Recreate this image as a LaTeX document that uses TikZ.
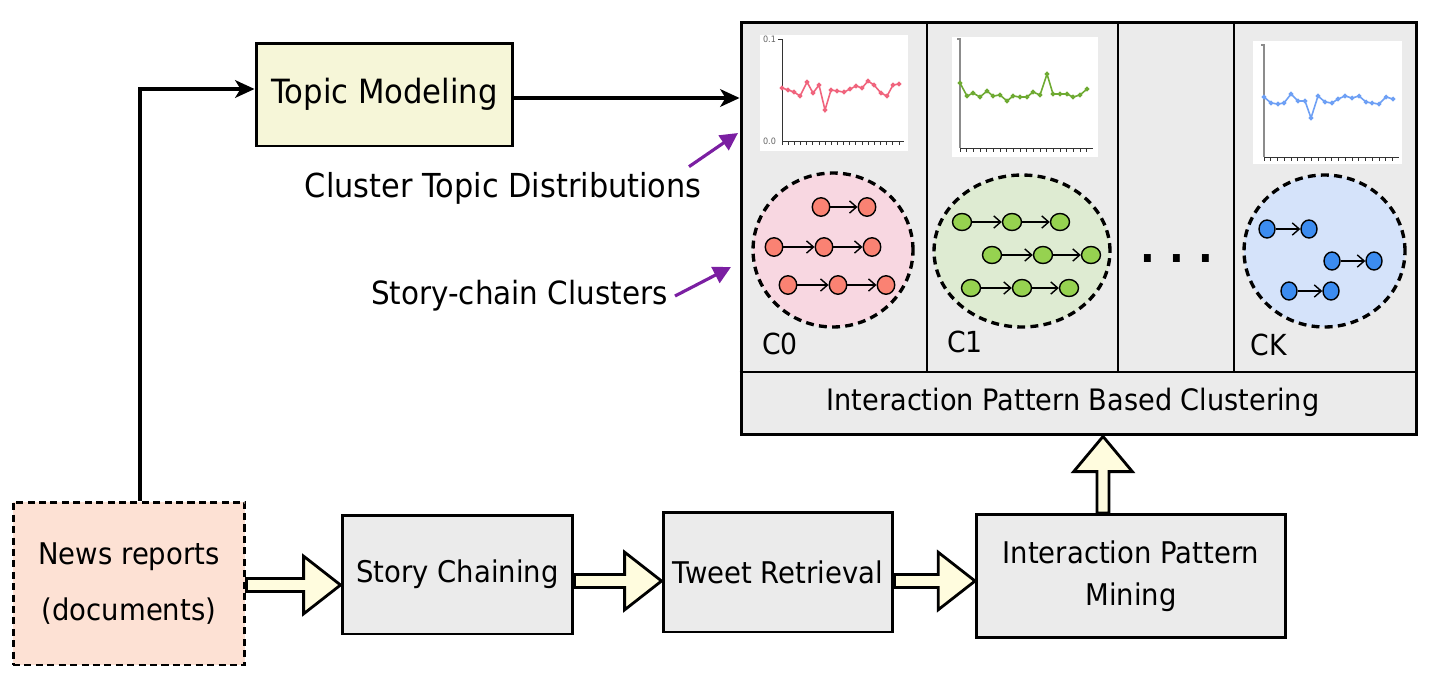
\documentclass[tikz,border=0pt]{standalone}
\usepackage{fontspec}
\setmainfont{DejaVu Sans}[FakeStretch=0.92]
\usetikzlibrary{arrows.meta,shapes.geometric,calc}

\definecolor{panelgray}{RGB}{235,235,235}
\definecolor{topicyellow}{RGB}{246,246,216}
\definecolor{newspeach}{RGB}{253,225,212}
\definecolor{fatyellow}{RGB}{255,252,222}
\definecolor{hintpurple}{RGB}{123,31,162}
\definecolor{pinkblob}{RGB}{248,215,225}
\definecolor{greenblob}{RGB}{222,235,210}
\definecolor{blueblob}{RGB}{213,227,250}
\definecolor{pinknode}{RGB}{250,130,115}
\definecolor{greennode}{RGB}{150,210,80}
\definecolor{bluenode}{RGB}{60,140,240}
\definecolor{pinkline}{RGB}{240,100,125}
\definecolor{greenline}{RGB}{110,170,50}
\definecolor{blueline}{RGB}{110,160,245}

% fat block arrows between the pipeline steps
\newcommand{\hfatarrow}[2]{%
  \draw[fatarrow] let \p1=(#1), \p2=(#2) in
    (\x1,\y1+3.7pt) -- (\x2-21pt,\y1+3.7pt) -- (\x2-21pt,\y1+16.4pt) -- (\x2,\y1)
    -- (\x2-21pt,\y1-16.4pt) -- (\x2-21pt,\y1-3.7pt) -- (\x1,\y1-3.7pt) -- cycle;}
\newcommand{\vfatarrow}[2]{%
  \draw[fatarrow] let \p1=(#1), \p2=(#2) in
    (\x1-3.4pt,\y1) -- (\x1-3.4pt,\y2-20pt) -- (\x1-16.7pt,\y2-20pt) -- (\x1,\y2)
    -- (\x1+16.7pt,\y2-20pt) -- (\x1+3.4pt,\y2-20pt) -- (\x1+3.4pt,\y1) -- cycle;}

\begin{document}
\begin{tikzpicture}[x=0.02cm,y=-0.02cm,
    stepbox/.style={draw,line width=1.7pt,fill=panelgray,align=center,
      font=\fontsize{17}{24}\selectfont},
    textlabel/.style={inner sep=0pt,font=\fontsize{17}{24}\selectfont},
    fatarrow/.style={draw,line width=1.6pt,fill=fatyellow,line join=miter},
    flowline/.style={line width=2.2pt,-{Stealth[length=11pt,width=10pt,inset=3pt]}},
    hintarrow/.style={hintpurple,line width=1.8pt,-{Triangle[length=10pt,width=10pt]}},
    clusterblob/.style={ellipse,draw,dash pattern=on 4.5pt off 3pt,line width=1.9pt},
    chainnode/.style={ellipse,draw,line width=0.8pt,inner sep=0pt,
      minimum width=0.35cm,minimum height=0.37cm},
    chainarrow/.style={line width=0.8pt,-{Straight Barb[length=4pt,width=7pt]}},
    axisline/.style={line width=0.5pt,black!80},
    grayaxis/.style={line width=1.2pt,black!45},
    axislabel/.style={inner sep=1pt,font=\fontsize{5}{6}\selectfont,black!60},
    topicline/.style={line width=0.9pt,mark=*,mark size=0.8pt}]
  \useasboundingbox (0,0) rectangle (1436,683);

  % Pipeline steps
  \node[stepbox,dashed,dash pattern=on 4pt off 2.5pt,fill=newspeach,
    minimum width=4.64cm,minimum height=3.26cm,
    font=\fontsize{17}{32}\selectfont] (news) at (129,583.5) {News reports\\(documents)};
  \node[stepbox,minimum width=4.62cm,minimum height=2.38cm] (story) at (457.5,574.5) {\raisebox{-2.5pt}{Story Chaining}};
  \node[stepbox,minimum width=4.6cm,minimum height=2.4cm] (tweet) at (778,572) {\raisebox{-2.5pt}{Tweet Retrieval}};
  \node[stepbox,minimum width=6.18cm,minimum height=2.46cm] (mining) at (1131,576) {Interaction Pattern\\Mining};
  \node[stepbox,fill=topicyellow,minimum width=5.14cm,minimum height=2.06cm,
    font=\fontsize{19}{24}\selectfont] (topic) at (384.5,94.5) {\raisebox{2pt}{Topic Modeling}};

  % Clustering frame
  \node[draw,line width=1.7pt,fill=panelgray,minimum width=13.52cm,minimum height=8.26cm] (frame) at (1079,228.5) {};
  \draw[line width=1.3pt] (927,22) -- (927,372);
  \draw[line width=1.3pt] (1118,22) -- (1118,372);
  \draw[line width=1.3pt] (1234,22) -- (1234,372);
  \draw[line width=1.3pt] (frame.west |- 0,372) -- (frame.east |- 0,372);
  \node[textlabel,font=\fontsize{16.8}{24}\selectfont] (clustering) at (1073,402) {Interaction Pattern Based Clustering};

  % Topic distribution charts
  \fill[white] (760,35) rectangle (908,151);
  \draw[axisline] (778,39) -- (782,39) -- (782,141) -- (904,141);
  \foreach \i in {0,...,19} \draw[axisline] (782+6.16*\i,141) -- ++(0,4);
  \node[axislabel,anchor=east] (c0max) at (778,39) {0.1};
  \node[axislabel,anchor=east] (c0min) at (778,141) {0.0};
  \draw[topicline,pinkline] plot coordinates {(782,88) (788,90) (794,92) (800,96) (807,82) (813,93)
    (819,85) (825,110) (831,90) (837,91) (844,92) (850,89) (856,86) (862,88) (868,81) (874,85)
    (881,93) (887,96) (893,85) (899,84)};

  \fill[white] (952,37) rectangle (1098,157);
  \draw[grayaxis] (957,39) -- (960,39) -- (960,148);
  \draw[axisline] (960,148) -- (1093,148);
  \foreach \i in {0,...,19} \draw[axisline] (960+6.68*\i,148) -- ++(0,4);
  \draw[topicline,greenline] plot coordinates {(960,83) (967,96) (973,93) (980,97) (987,91) (993,96)
    (1000,95) (1007,101) (1013,96) (1020,97) (1027,97) (1033,92) (1040,95) (1047,74) (1053,94)
    (1060,94) (1067,94) (1073,97) (1080,95) (1087,89)};

  \fill[white] (1253,41) rectangle (1402,164);
  \draw[grayaxis] (1261,45) -- (1264,45) -- (1264,157);
  \draw[axisline] (1264,157) -- (1399,157);
  \foreach \i in {0,...,19} \draw[axisline] (1264+6.77*\i,157) -- ++(0,4);
  \draw[topicline,blueline] plot coordinates {(1264,97) (1271,103) (1278,104) (1284,103) (1291,94)
    (1298,101) (1305,101) (1311,118) (1318,96) (1325,102) (1332,103) (1338,99) (1345,96) (1352,98)
    (1359,96) (1366,102) (1372,103) (1379,104) (1386,97) (1393,99)};

  % Story-chain clusters
  \node[clusterblob,fill=pinkblob,minimum width=3.2cm,minimum height=3.08cm] (c0) at (833,250) {};
  \node[clusterblob,fill=greenblob,minimum width=3.52cm,minimum height=3.04cm] (c1) at (1022,251) {};
  \node[clusterblob,fill=blueblob,minimum width=3.22cm,minimum height=3.04cm] (ck) at (1324.5,251) {};

  \foreach \n/\x/\y in {r11/821/207, r12/867/207, r21/774/247, r22/824/247, r23/872/247,
      r31/788/285, r32/838/285, r33/886/285}
    \node[chainnode,fill=pinknode] (\n) at (\x,\y) {};
  \foreach \n/\x/\y in {g11/962/222, g12/1012/222, g13/1060/222, g21/992/255, g22/1043/255,
      g23/1091/255, g31/971/288, g32/1022/288, g33/1069/288}
    \node[chainnode,fill=greennode,minimum width=0.38cm,minimum height=0.34cm] (\n) at (\x,\y) {};
  \foreach \n/\x/\y in {b11/1267/229, b12/1309/229, b21/1332/261, b22/1374/261,
      b31/1289/291, b32/1331/291}
    \node[chainnode,fill=bluenode,minimum width=0.32cm,minimum height=0.36cm] (\n) at (\x,\y) {};
  \foreach \a/\b in {r11/r12, r21/r22, r22/r23, r31/r32, r32/r33, g11/g12, g12/g13,
      g21/g22, g22/g23, g31/g32, g32/g33, b11/b12, b21/b22, b31/b32}
    \draw[chainarrow] (\a) -- (\b);

  \node[textlabel,font=\fontsize{16.5}{20}\selectfont] (c0name) at (780,344) {C0};
  \node[textlabel,font=\fontsize{16.5}{20}\selectfont] (c1name) at (965,342) {C1};
  \node[textlabel,font=\fontsize{16.5}{20}\selectfont] (ckname) at (1269,345) {CK};
  \node[textlabel,font=\fontsize{24}{24}\selectfont\bfseries] (dots) at (1177,259) {.\,\,.\,\,.};

  % Annotations
  \node[textlabel,anchor=east,font=\fontsize{18.8}{24}\selectfont] (ctd) at (702,188) {Cluster Topic Distributions};
  \node[textlabel,anchor=east,font=\fontsize{18.2}{24}\selectfont] (scc) at (668,296) {Story-chain Clusters};
  \coordinate (ctdtip) at (738,133);
  \coordinate (scctip) at (731,267);
  \draw[hintarrow] ([xshift=-0.26cm,yshift=0.1cm]ctd.north east) -- (ctdtip);
  \draw[hintarrow] ([xshift=0.14cm,yshift=0cm]scc.east) -- (scctip);

  % Connectors
  \draw[flowline] ([xshift=0.22cm]news.north) |- ([yshift=0.11cm]topic.west);
  \draw[flowline] ([yshift=-0.07cm]topic.east) -- ([yshift=-0.07cm]topic.east -| frame.west);
  \hfatarrow{news.east |- 0,585}{story.west |- 0,585}
  \hfatarrow{story.east |- 0,581}{tweet.west |- 0,581}
  \hfatarrow{tweet.east |- 0,581}{mining.west |- 0,581}
  \vfatarrow{mining.north -| 1103,0}{frame.south -| 1103,0}
\end{tikzpicture}
\end{document}
